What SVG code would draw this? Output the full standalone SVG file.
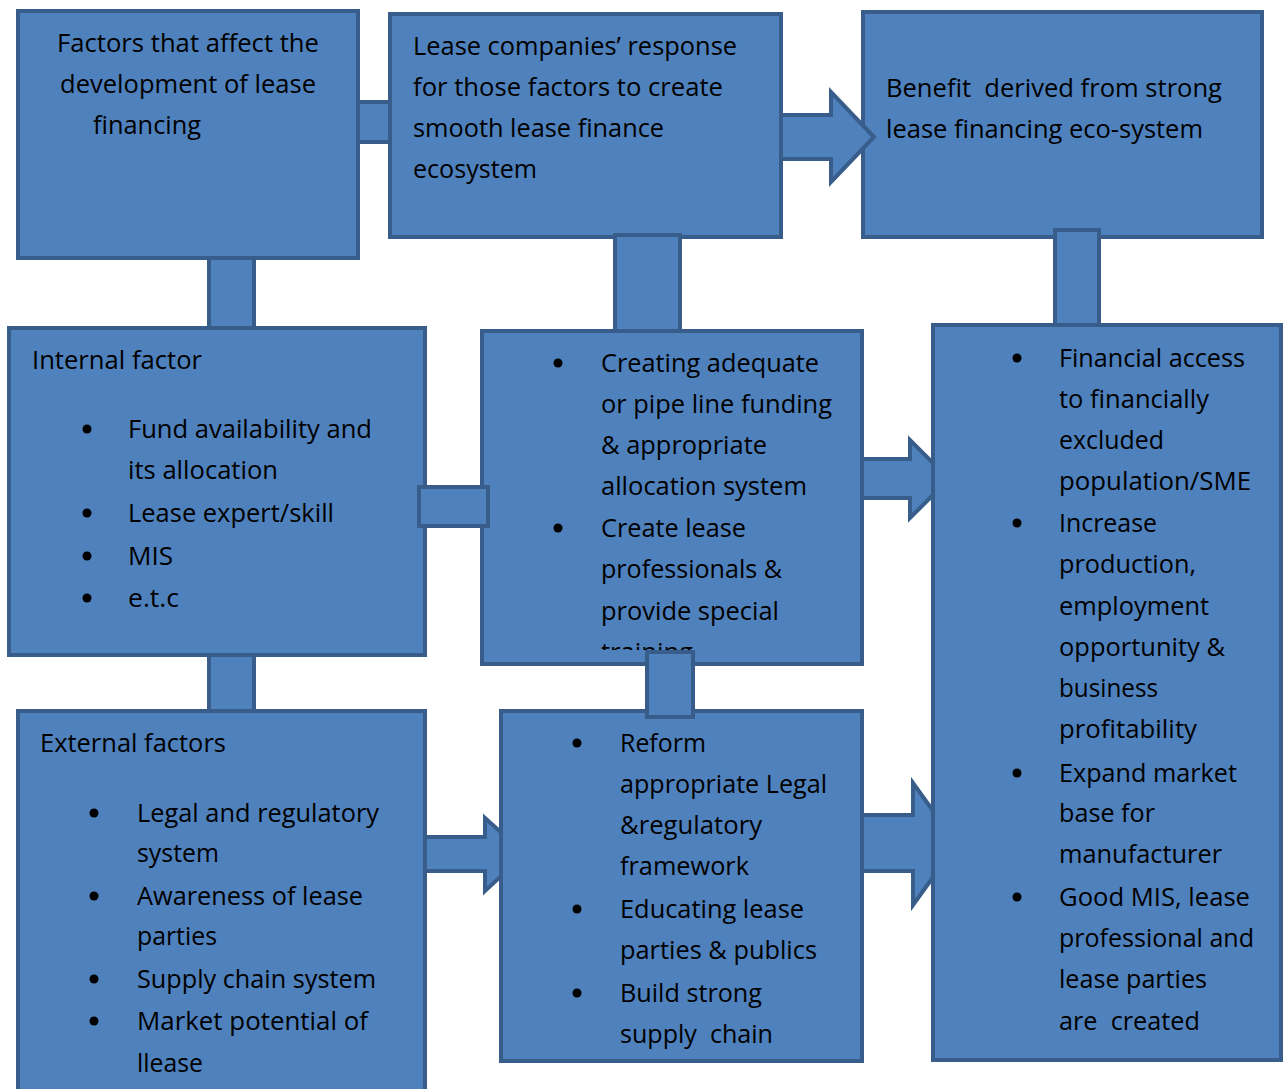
<svg xmlns="http://www.w3.org/2000/svg" width="1283" height="1089" viewBox="0 0 1283 1089">
<style>
.box{fill:#4F81BD;stroke:#385D8A;stroke-width:4;stroke-linejoin:miter}
.con{fill:#4F81BD;stroke:#385D8A;stroke-width:4;stroke-linejoin:miter}
.t{font-family:"Open Sans","Liberation Sans",sans-serif;font-size:26px;fill:#000}
.b{fill:#000}
</style>
<defs>
<clipPath id="clipE"><rect x="482" y="331" width="380" height="319"/></clipPath>
</defs>
<rect width="1283" height="1089" fill="#fff"/>

<g id="connectors-back">
<rect class="con" x="358" y="102" width="32" height="40"/>
<rect class="con" x="209" y="258" width="45" height="70"/>
<rect class="con" x="209" y="655" width="45" height="56"/>
</g>

<g id="node-factors">
<rect class="box" x="18" y="11" width="340" height="247"/>
<text class="t" x="57" y="52" textLength="262" lengthAdjust="spacingAndGlyphs">Factors that affect the</text>
<text class="t" x="60" y="93" textLength="256" lengthAdjust="spacingAndGlyphs">development of lease</text>
<text class="t" x="93" y="134" textLength="108" lengthAdjust="spacingAndGlyphs">financing</text>
</g>

<g id="node-response">
<rect class="box" x="390" y="14" width="391" height="223"/>
<text class="t" x="413" y="55" textLength="324" lengthAdjust="spacingAndGlyphs">Lease companies’ response</text>
<text class="t" x="413" y="96" textLength="310" lengthAdjust="spacingAndGlyphs">for those factors to create</text>
<text class="t" x="413" y="137" textLength="251" lengthAdjust="spacingAndGlyphs">smooth lease finance</text>
<text class="t" x="413" y="178" textLength="124" lengthAdjust="spacingAndGlyphs">ecosystem</text>
</g>

<g id="node-benefit">
<rect class="box" x="863" y="12" width="399" height="225"/>
<text class="t" x="886" y="97" textLength="336" lengthAdjust="spacingAndGlyphs" xml:space="preserve">Benefit  derived from strong</text>
<text class="t" x="886" y="138" textLength="317" lengthAdjust="spacingAndGlyphs">lease financing eco-system</text>
</g>

<g id="node-internal">
<rect class="box" x="9" y="328" width="416" height="327"/>
<text class="t" x="32" y="369" textLength="170" lengthAdjust="spacingAndGlyphs">Internal factor</text>
<circle class="b" cx="87" cy="429" r="4.5"/>
<text class="t" x="128" y="438" textLength="244" lengthAdjust="spacingAndGlyphs">Fund availability and</text>
<text class="t" x="128" y="479" textLength="150" lengthAdjust="spacingAndGlyphs">its allocation</text>
<circle class="b" cx="87" cy="513" r="4.5"/>
<text class="t" x="128" y="522" textLength="206" lengthAdjust="spacingAndGlyphs">Lease expert/skill</text>
<circle class="b" cx="87" cy="556" r="4.5"/>
<text class="t" x="128" y="565" textLength="45" lengthAdjust="spacingAndGlyphs">MIS</text>
<circle class="b" cx="87" cy="598" r="4.5"/>
<text class="t" x="128" y="607" textLength="51" lengthAdjust="spacingAndGlyphs">e.t.c</text>
</g>

<g id="node-external">
<rect class="box" x="18" y="711" width="407" height="400"/>
<text class="t" x="40" y="752" textLength="186" lengthAdjust="spacingAndGlyphs">External factors</text>
<circle class="b" cx="94" cy="813" r="4.5"/>
<text class="t" x="137" y="822" textLength="242" lengthAdjust="spacingAndGlyphs">Legal and regulatory</text>
<text class="t" x="137" y="862" textLength="82" lengthAdjust="spacingAndGlyphs">system</text>
<circle class="b" cx="94" cy="896" r="4.5"/>
<text class="t" x="137" y="905" textLength="226" lengthAdjust="spacingAndGlyphs">Awareness of lease</text>
<text class="t" x="137" y="945" textLength="80" lengthAdjust="spacingAndGlyphs">parties</text>
<circle class="b" cx="94" cy="979" r="4.5"/>
<text class="t" x="137" y="988" textLength="239" lengthAdjust="spacingAndGlyphs">Supply chain system</text>
<circle class="b" cx="94" cy="1021" r="4.5"/>
<text class="t" x="137" y="1030" textLength="231" lengthAdjust="spacingAndGlyphs">Market potential of</text>
<text class="t" x="137" y="1072" textLength="66" lengthAdjust="spacingAndGlyphs">llease</text>
</g>

<g id="connectors-mid">
<rect class="con" x="615" y="235" width="65" height="96"/>
<rect class="con" x="1055" y="230" width="44" height="95"/>
<polygon class="con" points="862,459 910,459 910,440 949,479 910,518 910,498 862,498"/>
<polygon class="con" points="862,815 913,815 913,783 957,844 913,905 913,871 862,871"/>
<polygon class="con" points="425,837 485,837 485,818 525,854 485,891 485,871 425,871"/>
</g>

<g id="node-middle">
<rect class="box" x="482" y="331" width="380" height="333"/>
<circle class="b" cx="558" cy="363" r="4.5"/>
<text class="t" x="601" y="372" textLength="218" lengthAdjust="spacingAndGlyphs">Creating adequate</text>
<text class="t" x="601" y="413" textLength="231" lengthAdjust="spacingAndGlyphs">or pipe line funding</text>
<text class="t" x="601" y="454" textLength="166" lengthAdjust="spacingAndGlyphs">&amp; appropriate</text>
<text class="t" x="601" y="495" textLength="206" lengthAdjust="spacingAndGlyphs">allocation system</text>
<circle class="b" cx="558" cy="528" r="4.5"/>
<text class="t" x="601" y="537" textLength="145" lengthAdjust="spacingAndGlyphs">Create lease</text>
<text class="t" x="601" y="578" textLength="181" lengthAdjust="spacingAndGlyphs">professionals &amp;</text>
<text class="t" x="601" y="620" textLength="178" lengthAdjust="spacingAndGlyphs">provide special</text>
<text class="t" x="601" y="661" textLength="92" lengthAdjust="spacingAndGlyphs" clip-path="url(#clipE)">training</text>
</g>

<g id="node-outcomes">
<rect class="box" x="933" y="325" width="348" height="735"/>
<circle class="b" cx="1017" cy="358" r="4.5"/>
<text class="t" x="1059" y="367" textLength="186" lengthAdjust="spacingAndGlyphs">Financial access</text>
<text class="t" x="1059" y="408" textLength="150" lengthAdjust="spacingAndGlyphs">to financially</text>
<text class="t" x="1059" y="449" textLength="105" lengthAdjust="spacingAndGlyphs">excluded</text>
<text class="t" x="1059" y="490" textLength="192" lengthAdjust="spacingAndGlyphs">population/SME</text>
<circle class="b" cx="1017" cy="523" r="4.5"/>
<text class="t" x="1059" y="532" textLength="98" lengthAdjust="spacingAndGlyphs">Increase</text>
<text class="t" x="1059" y="573" textLength="137" lengthAdjust="spacingAndGlyphs">production,</text>
<text class="t" x="1059" y="615" textLength="150" lengthAdjust="spacingAndGlyphs">employment</text>
<text class="t" x="1059" y="656" textLength="166" lengthAdjust="spacingAndGlyphs">opportunity &amp;</text>
<text class="t" x="1059" y="697" textLength="99" lengthAdjust="spacingAndGlyphs">business</text>
<text class="t" x="1059" y="738" textLength="138" lengthAdjust="spacingAndGlyphs">profitability</text>
<circle class="b" cx="1017" cy="773" r="4.5"/>
<text class="t" x="1059" y="782" textLength="178" lengthAdjust="spacingAndGlyphs">Expand market</text>
<text class="t" x="1059" y="822" textLength="96" lengthAdjust="spacingAndGlyphs">base for</text>
<text class="t" x="1059" y="863" textLength="163" lengthAdjust="spacingAndGlyphs">manufacturer</text>
<circle class="b" cx="1017" cy="897" r="4.5"/>
<text class="t" x="1059" y="906" textLength="191" lengthAdjust="spacingAndGlyphs">Good MIS, lease</text>
<text class="t" x="1059" y="947" textLength="195" lengthAdjust="spacingAndGlyphs">professional and</text>
<text class="t" x="1059" y="988" textLength="148" lengthAdjust="spacingAndGlyphs">lease parties</text>
<text class="t" x="1059" y="1030" textLength="141" lengthAdjust="spacingAndGlyphs" xml:space="preserve">are  created</text>
</g>

<g id="node-reform">
<rect class="box" x="501" y="711" width="361" height="350"/>
<circle class="b" cx="577" cy="743" r="4.5"/>
<text class="t" x="620" y="752" textLength="86" lengthAdjust="spacingAndGlyphs">Reform</text>
<text class="t" x="620" y="793" textLength="207" lengthAdjust="spacingAndGlyphs">appropriate Legal</text>
<text class="t" x="620" y="834" textLength="142" lengthAdjust="spacingAndGlyphs">&amp;regulatory</text>
<text class="t" x="620" y="875" textLength="129" lengthAdjust="spacingAndGlyphs">framework</text>
<circle class="b" cx="577" cy="909" r="4.5"/>
<text class="t" x="620" y="918" textLength="184" lengthAdjust="spacingAndGlyphs">Educating lease</text>
<text class="t" x="620" y="959" textLength="197" lengthAdjust="spacingAndGlyphs">parties &amp; publics</text>
<circle class="b" cx="577" cy="993" r="4.5"/>
<text class="t" x="620" y="1002" textLength="142" lengthAdjust="spacingAndGlyphs">Build strong</text>
<text class="t" x="620" y="1043" textLength="153" lengthAdjust="spacingAndGlyphs" xml:space="preserve">supply  chain</text>
</g>

<g id="connectors-front">
<rect class="con" x="419" y="487" width="69" height="39"/>
<rect class="con" x="647" y="652" width="46" height="65"/>
<polygon class="con" points="781,115 831,115 831,92 874,137 831,182 831,159 781,159"/>
</g>
</svg>
